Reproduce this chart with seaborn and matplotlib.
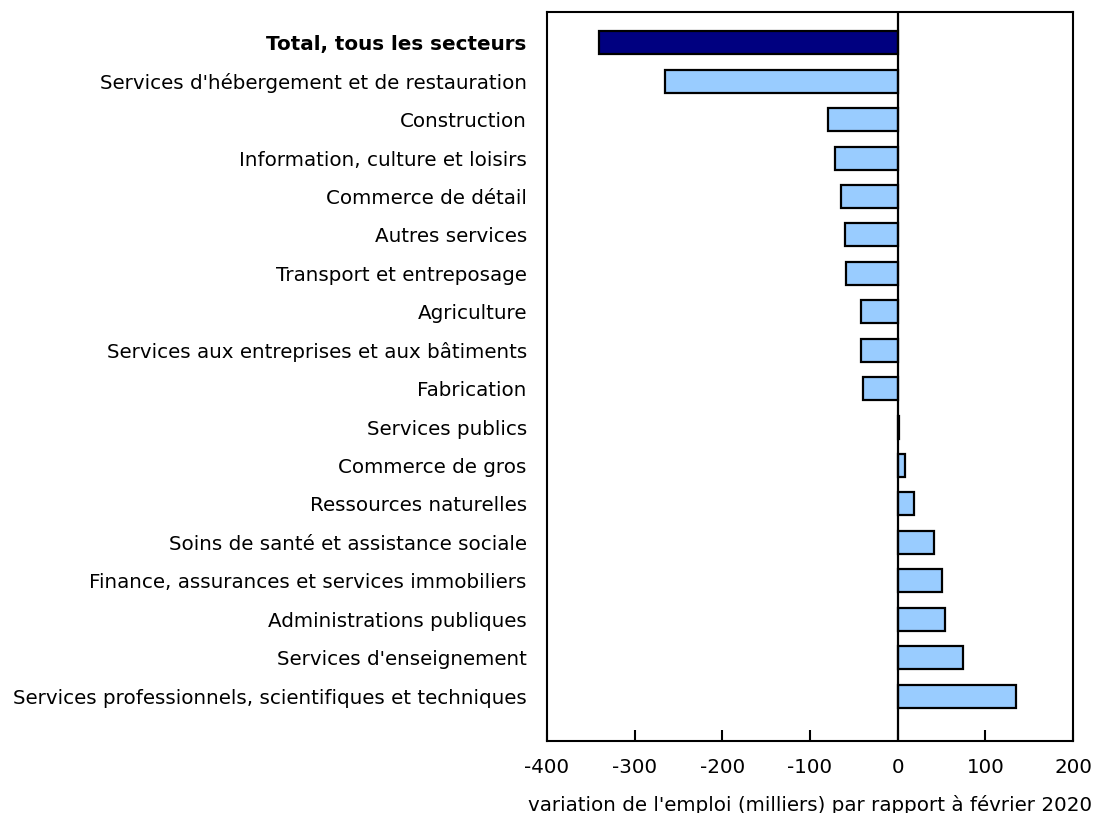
import pandas as pd
import matplotlib.pyplot as plt
import seaborn as sns

## Data: employment change vs February 2020 (thousands), by sector

sectors = ['Total, tous les secteurs',
           "Services d'hébergement et de restauration",
           'Construction',
           'Information, culture et loisirs',
           'Commerce de détail',
           'Autres services',
           'Transport et entreposage',
           'Agriculture',
           'Services aux entreprises et aux bâtiments',
           'Fabrication',
           'Services publics',
           'Commerce de gros',
           'Ressources naturelles',
           'Soins de santé et assistance sociale',
           'Finance, assurances et services immobiliers',
           'Administrations publiques',
           "Services d'enseignement",
           'Services professionnels, scientifiques et techniques']
changes = [-341, -265, -79, -71, -65, -60, -59, -42, -42, -40,
           1, 8, 19, 42, 51, 54, 75, 135]
xticks = [-400, -300, -200, -100, 0, 100, 200]

df = pd.DataFrame({'sector': sectors, 'change': changes})
colors = ['#000080'] + ['#99CCFF'] * (len(sectors) - 1)

sns.set_style('white')
plt.rcParams['font.family'] = ['DejaVu Sans']
plt.rcParams['text.color'] = 'black'
plt.rcParams['xtick.color'] = 'black'
plt.rcParams['ytick.color'] = 'black'
plt.rcParams['axes.labelcolor'] = 'black'

fs = 14.3
fig = plt.figure(figsize=(10.97, 8.13), dpi=100)
ax = fig.add_axes([547/1097, 1 - 741/813, 526/1097, 729/813])

sns.barplot(data=df, x='change', y='sector', hue='sector', palette=colors,
            legend=False, orient='h', width=0.6, edgecolor='black',
            linewidth=1.6, ax=ax, saturation=1)

ax.axvline(0, color='black', linewidth=1.6, zorder=5)
ax.set_xlim(-400, 200)
ax.set_ylim(18.17, -0.8)
ax.set_xticks(xticks)
ax.set_xticklabels([str(t) for t in xticks], fontsize=fs)
ax.tick_params(axis='x', direction='in', length=8, width=1.5, pad=12,
               bottom=True)
ax.tick_params(axis='y', length=0, pad=14.5, labelsize=fs)
for lab in ax.get_yticklabels():
    if lab.get_text().startswith('Total'):
        lab.set_fontweight('bold')
for s in ax.spines.values():
    s.set_color('black')
    s.set_linewidth(1.5)

ax.set_ylabel('')
ax.set_xlabel("variation de l'emploi (milliers) par rapport à février 2020",
              fontsize=fs)
ax.xaxis.set_label_coords(0.5, -0.074)

plt.savefig('out.png', dpi=100)
